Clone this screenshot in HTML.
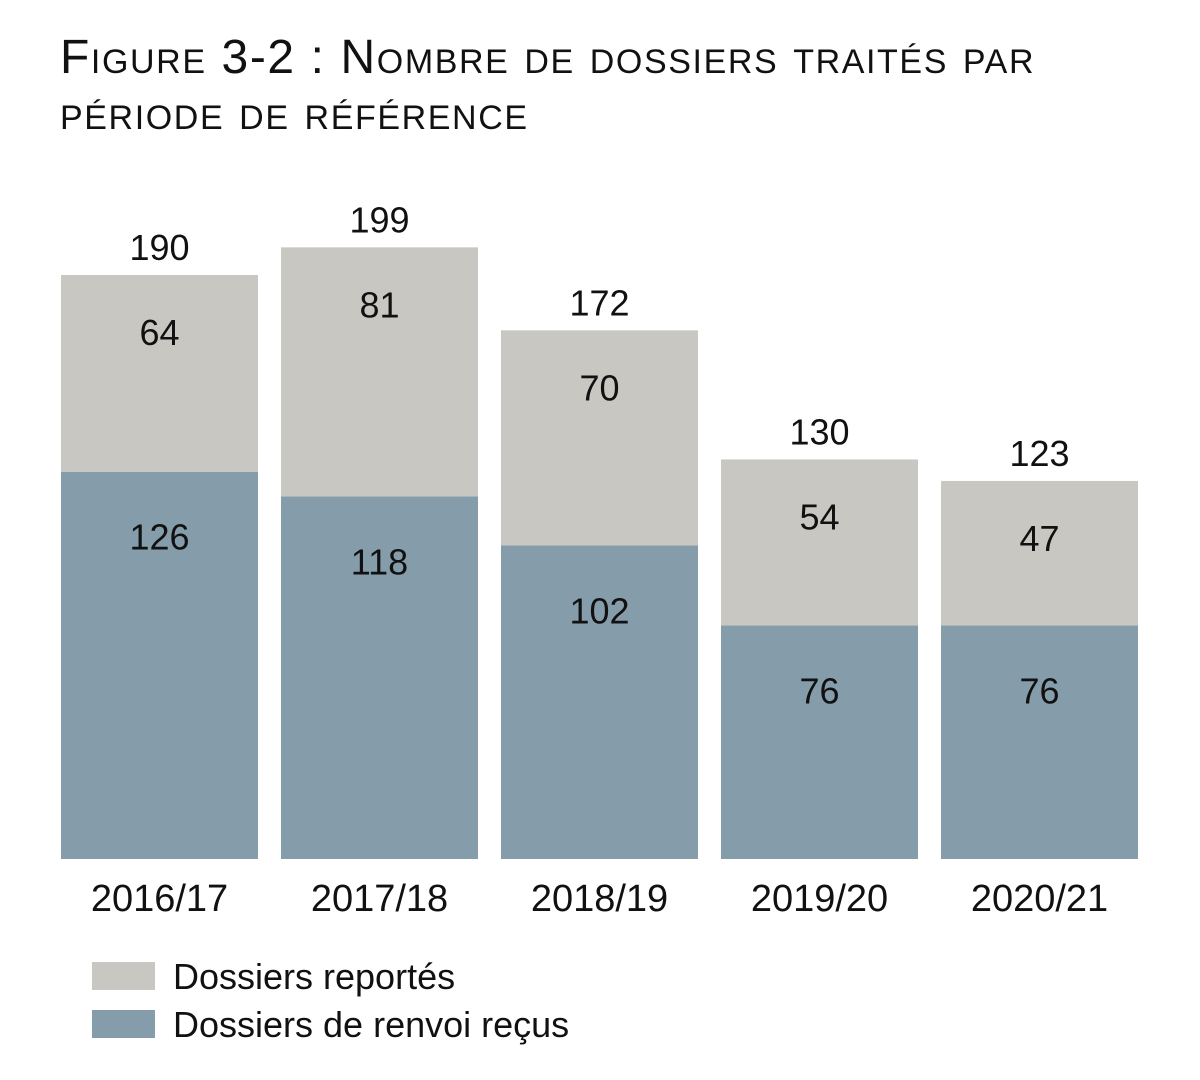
<!DOCTYPE html>
<html><head><meta charset="utf-8">
<style>
body{margin:0;background:#fff;font-family:"Liberation Sans",sans-serif;}
#wrap{position:relative;width:1200px;height:1080px;overflow:hidden}
.title{position:absolute;left:60px;top:30px;font-size:48px;line-height:56px;font-variant:small-caps;color:#111;letter-spacing:1.6px}
</style></head><body>
<div id="wrap">
<div class="title">Figure 3-2 : Nombre de dossiers traités par<br>période de référence</div>
<svg id="chart" width="1200" height="1080" style="position:absolute;left:0;top:0"></svg>
</div>
<script>
const categories=["2016/17","2017/18","2018/19","2019/20","2020/21"];
const received=[126,118,102,76,76];
const carried=[64,81,70,54,47];
const totals=[190,199,172,130,123];
const legendLabels=["Dossiers reportés","Dossiers de renvoi reçus"];

const NS="http://www.w3.org/2000/svg";
const svg=document.getElementById('chart');
const baseY=859, scale=584/190, left=61, bw=197, step=220;
const yPos=v=>baseY-v*scale;
const xPos=i=>left+i*step;
function mk(tag,attrs,parent){const e=document.createElementNS(NS,tag);for(const k in attrs)e.setAttribute(k,attrs[k]);(parent||svg).appendChild(e);return e;}
function txt(x,y,s,size){const t=mk('text',{x:x,y:y,'text-anchor':'middle','font-size':size||36,'font-family':'Liberation Sans, sans-serif',fill:'#111'});t.textContent=s;return t;}
categories.forEach((c,i)=>{
  const x=xPos(i);
  const yb=yPos(received[i]);
  const yt=yPos(received[i]+carried[i]);
  const b=mk('rect',{x:x,y:yb,width:bw,height:baseY-yb,fill:'#859daa'});
  
  
  const g=mk('rect',{x:x,y:yt,width:bw,height:yb-yt,fill:'#c8c7c2'});
  
  
  const l1=txt(x+bw/2,yb+78,String(received[i]));
  
  
  const l2=txt(x+bw/2,yt+70,String(carried[i]));
  
  
  const l3=txt(x+bw/2,yPos(totals[i])-15,String(totals[i]));
  
  
  const l4=txt(x+bw/2,911,c,38);
  
  
});
const colors=['#c8c7c2','#859daa'];
legendLabels.forEach((s,i)=>{
  const y=962+i*48;
  const r=mk('rect',{x:92,y:y,width:63,height:28,fill:colors[i]});
  
  
  const t=mk('text',{x:173,y:y+27,'font-size':36,'font-family':'Liberation Sans, sans-serif',fill:'#111'});
  t.textContent=s;
  
  
});
</script>
</body></html>
